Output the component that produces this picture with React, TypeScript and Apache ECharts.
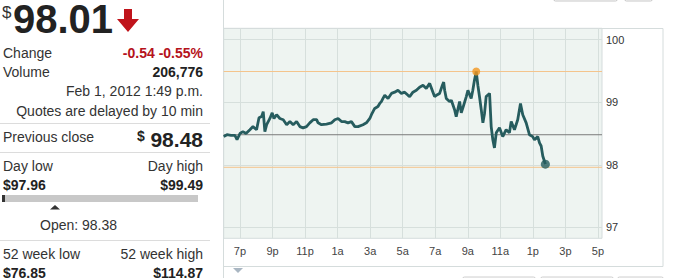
import React, { useEffect, useRef } from "react";
import * as echarts from "echarts";

const times = [0,0.2,0.45,0.69,0.82,1.0,1.18,1.37,1.61,1.80,
2.02,2.17,2.33,2.43,2.53,2.64,2.84,2.98,3.09,3.25,
3.45,3.66,3.87,4.07,4.27,4.48,4.68,4.88,5.09,5.29,
5.50,5.71,5.80,6.01,6.32,6.63,6.83,7.03,7.24,7.44,
7.64,7.85,8.06,8.26,8.56,8.77,8.98,9.08,9.28,9.48,
9.59,9.69,9.79,9.90,10.10,10.31,10.51,10.71,10.92,11.12,
11.33,11.43,11.63,11.84,12.04,12.25,12.45,12.66,12.86,12.96,
13.07,13.27,13.44,13.52,13.58,13.68,13.88,13.99,14.19,14.29,
14.50,14.60,14.70,14.91,15.01,15.21,15.31,15.41,15.52,15.62,
15.72,15.83,15.93,16.03,16.13,16.34,16.44,16.54,16.64,16.75,
16.95,17.15,17.36,17.56,17.67,17.87,18.07,18.24,18.38,18.59,
18.79,18.99,19.10,19.30,19.41,19.51,19.61,19.77];

const prices = [98.45,98.48,98.47,98.47,98.40,98.50,98.53,98.50,98.56,98.61,
98.56,98.75,98.77,98.85,98.53,98.64,98.74,98.83,98.74,98.80,
98.74,98.72,98.64,98.69,98.64,98.69,98.61,98.59,98.61,98.67,
98.72,98.72,98.67,98.64,98.65,98.67,98.72,98.74,98.69,98.69,
98.67,98.69,98.61,98.61,98.64,98.67,98.74,98.80,98.90,98.93,
98.98,99.01,99.06,99.11,99.06,99.14,99.16,99.19,99.14,99.16,
99.11,99.09,99.16,99.19,99.24,99.27,99.22,99.30,99.16,99.09,
99.11,99.14,99.27,99.32,99.19,99.06,99.01,99.03,98.88,98.77,
99.01,98.83,98.91,99.09,99.19,99.06,99.19,99.35,99.49,99.27,
99.09,98.88,98.67,98.82,99.09,99.14,98.61,98.40,98.27,98.51,
98.59,98.45,98.56,98.51,98.69,98.56,98.72,98.98,98.80,98.67,
98.48,98.45,98.40,98.45,98.35,98.30,98.14,98.01];

const highPoint = [15.52, 99.49];
const lastPoint = [19.77, 98.01];
const prevClose = 98.48;
const dayHigh = 99.49;
const dayLow = 97.96;

const xMin = 0;
const xMax = 23.25;
const xTickValues = [1, 3, 5, 7, 9, 11, 13, 15, 17, 19, 21, 23];
const xTickLabels = ["7p", "9p", "11p", "1a", "3a", "5a", "7a", "9a", "11a", "1p", "3p", "5p"];
const yTickValues = [97, 98, 99, 100];

const FONT = "'Liberation Sans', Arial, Helvetica, sans-serif";
const DARK = "#333333";
const BLACK = "#222222";
const RED = "#b5121b";

function txt(text: string, x: number, y: number, size: number, opts: any = {}) {
  return {
    type: "text",
    x,
    y,
    silent: true,
    style: {
      text,
      fill: opts.fill || DARK,
      font: `${opts.bold ? "bold " : ""}${size}px ${FONT}`,
      textAlign: opts.align || "left",
      textVerticalAlign: "middle",
    },
  };
}

function hline(x1: number, x2: number, y: number, color: string) {
  return { type: "line", silent: true, shape: { x1, y1: y, x2, y2: y }, style: { stroke: color, lineWidth: 1 } };
}

function refLine(value: number, color: string) {
  return {
    type: "line",
    data: [[xMin, value], [xMax, value]],
    symbol: "none",
    silent: true,
    lineStyle: { color, width: 1 },
    z: 2,
  };
}

export default function App() {
  const ref = useRef<HTMLDivElement>(null);
  useEffect(() => {
    if (!ref.current) return;
    const chart = echarts.init(ref.current, undefined, { renderer: "svg" });
    const lineData = times.map((t, i) => [t, prices[i]]);
    const R = 203;
    const graphic: any[] = [
      { type: "line", silent: true, shape: { x1: 223.5, y1: 0, x2: 223.5, y2: 278 }, style: { stroke: "#d5dcdc", lineWidth: 1 } },
      { type: "rect", silent: true, shape: { x: 223.5, y: 28.5, width: 439.5, height: 238 }, style: { fill: "none", stroke: "#d5dcdc", lineWidth: 1 } },
      { type: "rect", silent: true, shape: { x: 553.5, y: -20, width: 64, height: 21, r: 2 }, style: { fill: "#fafafa", stroke: "#c8c8c8" } },
      { type: "rect", silent: true, shape: { x: 624.5, y: -20, width: 28, height: 21, r: 2 }, style: { fill: "#fafafa", stroke: "#c8c8c8" } },
      { type: "rect", silent: true, shape: { x: 462.5, y: 277, width: 73, height: 20, r: 2 }, style: { fill: "#fafafa", stroke: "#cfcfcf" } },
      { type: "rect", silent: true, shape: { x: 540.5, y: 277, width: 73, height: 20, r: 2 }, style: { fill: "#fafafa", stroke: "#cfcfcf" } },
      { type: "rect", silent: true, shape: { x: 617.5, y: 277, width: 46, height: 20, r: 2 }, style: { fill: "#fafafa", stroke: "#cfcfcf" } },
      { type: "polygon", silent: true, shape: { points: [[233, 268], [243, 268], [238, 273]] }, style: { fill: "#a9b6c2" } },
      txt("$", 2, 12, 17),
      txt("98.01", 13, 19, 40, { bold: true, fill: BLACK }),
      { type: "polygon", silent: true, shape: { points: [[124, 9], [132, 9], [132, 19], [139, 19], [128, 32], [117, 19], [124, 19]] }, style: { fill: "#c0141b" } },
      txt("Change", 3, 53, 14),
      txt("-0.54 -0.55%", R, 53, 14, { bold: true, fill: RED, align: "right" }),
      txt("Volume", 3, 72, 14),
      txt("206,776", R, 72, 14, { bold: true, fill: BLACK, align: "right" }),
      txt("Feb 1, 2012 1:49 p.m.", R, 91, 14, { align: "right" }),
      txt("Quotes are delayed by 10 min", R, 111, 14, { align: "right" }),
      hline(0, 210, 123.5, "#dcdcdc"),
      txt("Previous close", 3, 137, 14),
      txt("$", 137, 136, 14, { bold: true, fill: BLACK }),
      txt("98.48", R, 139.5, 21, { bold: true, fill: BLACK, align: "right" }),
      hline(0, 210, 152.5, "#dcdcdc"),
      txt("Day low", 3, 165.5, 14),
      txt("Day high", R, 165.5, 14, { align: "right" }),
      txt("$97.96", 3, 184.5, 14, { bold: true, fill: BLACK }),
      txt("$99.49", R, 184.5, 14, { bold: true, fill: BLACK, align: "right" }),
      { type: "rect", silent: true, shape: { x: 2, y: 195, width: 196, height: 7 }, style: { fill: "#c8c8c8" } },
      { type: "rect", silent: true, shape: { x: 2, y: 195, width: 3, height: 7 }, style: { fill: "#333333" } },
      { type: "polygon", silent: true, shape: { points: [[50, 209.5], [60, 209.5], [55, 205]] }, style: { fill: "#333333" } },
      txt("Open: 98.38", 40, 225, 14),
      hline(0, 210, 240.5, "#dcdcdc"),
      txt("52 week low", 3, 254, 14),
      txt("52 week high", R, 254, 14, { align: "right" }),
      txt("$76.85", 3, 273, 14, { bold: true, fill: BLACK }),
      txt("$114.87", R, 273, 14, { bold: true, fill: BLACK, align: "right" }),
    ];

    chart.setOption({
      animation: false,
      backgroundColor: "#ffffff",
      grid: {
        left: 223.7,
        top: 28.3,
        right: 72,
        bottom: 39.7,
        show: true,
        backgroundColor: "#eef4f1",
        borderColor: "#d5dcdc",
        borderWidth: 1,
      },
      xAxis: {
        type: "value",
        min: xMin,
        max: xMax,
        axisLine: { show: false },
        axisTick: { show: false, customValues: xTickValues },
        axisLabel: {
          customValues: xTickValues,
          formatter: (v: number) => xTickLabels[xTickValues.indexOf(Math.round(v))] || "",
          color: "#444",
          fontSize: 11,
          fontFamily: FONT,
          margin: 7,
        },
        splitLine: { show: true, lineStyle: { color: "#d6dfdc", width: 1 } },
      },
      yAxis: {
        type: "value",
        position: "right",
        min: 96.826,
        max: 100.18,
        axisLine: { show: false },
        axisTick: { show: false, customValues: yTickValues },
        axisLabel: {
          customValues: yTickValues,
          color: "#333",
          fontSize: 11,
          fontFamily: FONT,
          margin: 4,
        },
        splitLine: { show: true, lineStyle: { color: "#d6dfdc", width: 1 } },
      },
      series: [
        refLine(prevClose, "#7a7a7a"),
        refLine(dayHigh, "#f4c48c"),
        refLine(dayLow, "#f4c48c"),
        {
          type: "line",
          data: lineData,
          showSymbol: false,
          symbol: "none",
          lineStyle: { color: "#265c5e", width: 2.8 },
          z: 3,
        },
        {
          type: "scatter",
          data: [highPoint],
          symbolSize: 8,
          itemStyle: { color: "#f2961e" },
          z: 4,
        },
        {
          type: "scatter",
          data: [lastPoint],
          symbolSize: 9,
          itemStyle: { color: "#265c5e" },
          z: 4,
        },
      ],
      graphic,
    });
    return () => chart.dispose();
  }, []);
  return (
    <div
      ref={ref}
      style={{ position: "absolute", left: 0, top: 0, width: 674, height: 278 }}
    />
  );
}
